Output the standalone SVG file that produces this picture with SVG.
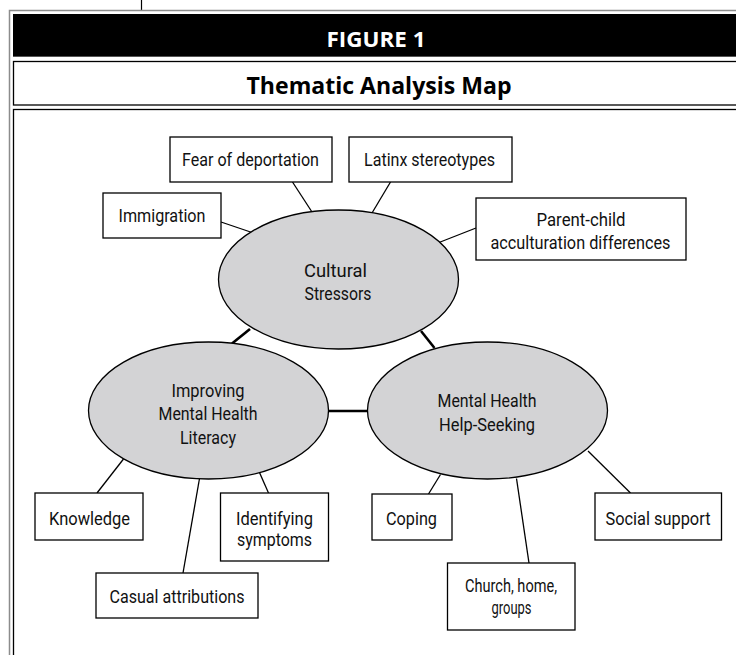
<svg xmlns="http://www.w3.org/2000/svg" width="736" height="655" viewBox="0 0 736 655">
  <style>
    .frame-gray{fill:none;stroke:#8c8c8c;stroke-width:1.5}
    .box{fill:#fff;stroke:#000;stroke-width:1.3}
    .theme{fill:#d3d3d5;stroke:#000;stroke-width:1.3}
    .lbl{font-family:Roboto,"Liberation Sans",sans-serif;font-size:18.5px;fill:#111;text-anchor:middle}
    .thin{stroke:#000;stroke-width:1.3;fill:none}
    .thick{stroke:#000;stroke-width:2.6;fill:none}
    .head{font-family:"Open Sans","Liberation Sans",sans-serif;font-weight:700;text-anchor:middle}
  </style>

  <!-- page frame and header bands -->
  <g id="frame">
    <line x1="141.5" y1="0" x2="141.5" y2="10" stroke="#000" stroke-width="1.2"/>
    <path class="frame-gray" d="M9.5,655 V10.5 H736"/>
    <rect x="13" y="14" width="723" height="43" fill="#000"/>
    <line x1="13" y1="56.5" x2="736" y2="56.5" stroke="#555" stroke-width="1"/>
    <rect class="box" x="13.5" y="61.5" width="730" height="43.5"/>
    <rect class="box" x="13.5" y="109.5" width="730" height="560"/>
    <text class="head" x="376" y="47" font-size="22" fill="#fff" textLength="99" lengthAdjust="spacingAndGlyphs">FIGURE 1</text>
    <text class="head" x="379" y="93.5" font-size="23" fill="#000" textLength="265" lengthAdjust="spacingAndGlyphs">Thematic Analysis Map</text>
  </g>

  <!-- connectors -->
  <g id="connectors">
    <line class="thin" x1="221" y1="222" x2="252" y2="232.5"/>
    <line class="thin" x1="292.5" y1="182" x2="312" y2="212"/>
    <line class="thin" x1="390.5" y1="182" x2="372" y2="213"/>
    <line class="thin" x1="476" y1="228" x2="439" y2="242.5"/>
    <line class="thick" x1="250" y1="329" x2="232" y2="343.5"/>
    <line class="thick" x1="421" y1="331" x2="434.5" y2="348"/>
    <line class="thick" x1="328" y1="411" x2="368" y2="411"/>
    <line class="thin" x1="123.5" y1="459" x2="97" y2="493"/>
    <line class="thin" x1="199.5" y1="478.5" x2="183" y2="573"/>
    <line class="thin" x1="259.5" y1="472.5" x2="268.5" y2="493"/>
    <line class="thin" x1="440.5" y1="474.5" x2="428.5" y2="494"/>
    <line class="thin" x1="516.5" y1="478.5" x2="529" y2="563"/>
    <line class="thin" x1="588" y1="451" x2="630.5" y2="493"/>
  </g>

  <!-- Cultural Stressors cluster -->
  <g id="fear-of-deportation">
    <rect class="box" x="170" y="137" width="162" height="45"/>
    <text class="lbl" x="250.5" y="166" textLength="137" lengthAdjust="spacingAndGlyphs">Fear of deportation</text>
  </g>
  <g id="latinx-stereotypes">
    <rect class="box" x="349" y="137" width="163" height="45"/>
    <text class="lbl" x="429.5" y="166" textLength="131" lengthAdjust="spacingAndGlyphs">Latinx stereotypes</text>
  </g>
  <g id="immigration">
    <rect class="box" x="103" y="193" width="118" height="45"/>
    <text class="lbl" x="162" y="222" textLength="87" lengthAdjust="spacingAndGlyphs">Immigration</text>
  </g>
  <g id="parent-child">
    <rect class="box" x="476" y="198" width="210" height="62"/>
    <text class="lbl" x="581" y="226" textLength="89" lengthAdjust="spacingAndGlyphs">Parent-child</text>
    <text class="lbl" x="580.5" y="249" textLength="180" lengthAdjust="spacingAndGlyphs">acculturation differences</text>
  </g>
  <g id="cultural-stressors">
    <ellipse class="theme" cx="338.5" cy="279.5" rx="120" ry="69.5"/>
    <text class="lbl" x="335.5" y="276.5" textLength="63" lengthAdjust="spacingAndGlyphs">Cultural</text>
    <text class="lbl" x="338" y="299.5" textLength="67" lengthAdjust="spacingAndGlyphs">Stressors</text>
  </g>

  <!-- Improving Mental Health Literacy cluster -->
  <g id="improving-literacy">
    <ellipse class="theme" cx="208.5" cy="410.5" rx="120" ry="68.5"/>
    <text class="lbl" x="208" y="396.5" textLength="73" lengthAdjust="spacingAndGlyphs">Improving</text>
    <text class="lbl" x="208" y="419.5" textLength="99" lengthAdjust="spacingAndGlyphs">Mental Health</text>
    <text class="lbl" x="208" y="443.5" textLength="56" lengthAdjust="spacingAndGlyphs">Literacy</text>
  </g>
  <g id="knowledge">
    <rect class="box" x="35" y="493" width="108" height="47"/>
    <text class="lbl" x="89.5" y="524.5" textLength="81" lengthAdjust="spacingAndGlyphs">Knowledge</text>
  </g>
  <g id="identifying-symptoms">
    <rect class="box" x="220.5" y="493" width="108" height="68"/>
    <text class="lbl" x="274.5" y="524.5" textLength="77" lengthAdjust="spacingAndGlyphs">Identifying</text>
    <text class="lbl" x="274.5" y="545.5" textLength="75" lengthAdjust="spacingAndGlyphs">symptoms</text>
  </g>
  <g id="casual-attributions">
    <rect class="box" x="96" y="573" width="162" height="45"/>
    <text class="lbl" x="177" y="603" textLength="135" lengthAdjust="spacingAndGlyphs">Casual attributions</text>
  </g>

  <!-- Mental Health Help-Seeking cluster -->
  <g id="help-seeking">
    <ellipse class="theme" cx="487.5" cy="410.5" rx="120" ry="68.5"/>
    <text class="lbl" x="487" y="406.5" textLength="99" lengthAdjust="spacingAndGlyphs">Mental Health</text>
    <text class="lbl" x="487" y="430.5" textLength="96" lengthAdjust="spacingAndGlyphs">Help-Seeking</text>
  </g>
  <g id="coping">
    <rect class="box" x="372" y="494" width="80" height="46"/>
    <text class="lbl" x="411.5" y="524.5" textLength="51" lengthAdjust="spacingAndGlyphs">Coping</text>
  </g>
  <g id="church-home-groups">
    <rect class="box" x="447.5" y="563" width="127.5" height="67"/>
    <text class="lbl" x="511" y="591.5" textLength="92" lengthAdjust="spacingAndGlyphs">Church, home,</text>
    <text class="lbl" x="511.5" y="614" textLength="40" lengthAdjust="spacingAndGlyphs">groups</text>
  </g>
  <g id="social-support">
    <rect class="box" x="595" y="493" width="126.5" height="47"/>
    <text class="lbl" x="658" y="524.5" textLength="105" lengthAdjust="spacingAndGlyphs">Social support</text>
  </g>
</svg>
